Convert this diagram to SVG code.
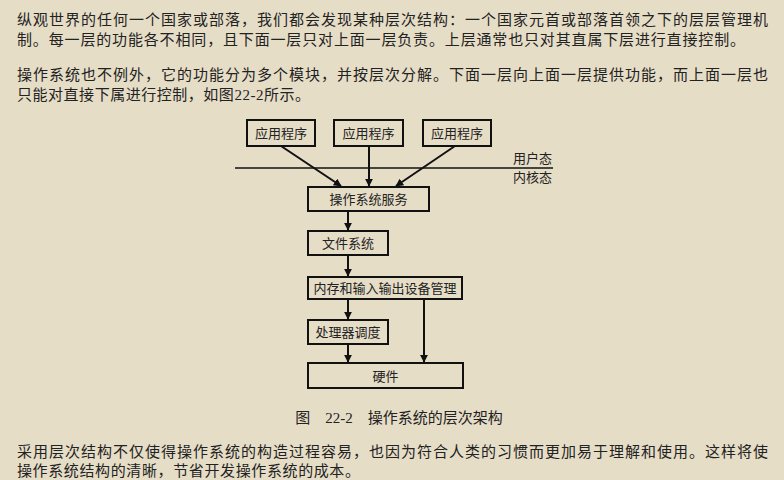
<svg xmlns="http://www.w3.org/2000/svg" width="784" height="480" viewBox="0 0 784 480">
<defs>
<style>
text{font-family:"Liberation Serif","Noto Sans CJK SC",serif;fill:#222}
.p{font-size:15px}
.b{font-size:13px;text-anchor:middle}
rect{fill:none;stroke:#111;stroke-width:2}
.c line{stroke:#111;stroke-width:2;marker-end:url(#a)}
</style>
<marker id="a" viewBox="0 0 10 10" refX="9" refY="5" markerWidth="4" markerHeight="4" orient="auto"><path d="M0,0L10,5L0,10z" fill="#111"/></marker>
</defs>
<rect x="0" y="0" width="784" height="480" style="fill:#e6ddc7;stroke:none"/>
<text class="p" x="17" y="25" textLength="751">纵观世界的任何一个国家或部落，我们都会发现某种层次结构：一个国家元首或部落首领之下的层层管理机</text>
<text class="p" x="17" y="45" textLength="728">制。每一层的功能各不相同，且下面一层只对上面一层负责。上层通常也只对其直属下层进行直接控制。</text>
<text class="p" x="17" y="80" textLength="751">操作系统也不例外，它的功能分为多个模块，并按层次分解。下面一层向上面一层提供功能，而上面一层也</text>
<text class="p" x="17" y="100" textLength="293">只能对直接下属进行控制，如图22-2所示。</text>
<g id="app1"><rect x="247" y="120" width="68" height="26"/><text class="b" x="281" y="138">应用程序</text></g>
<g id="app2"><rect x="334" y="120" width="69" height="26"/><text class="b" x="368.5" y="138">应用程序</text></g>
<g id="app3"><rect x="423" y="120" width="68" height="26"/><text class="b" x="457" y="138">应用程序</text></g>
<g id="boundary"><line x1="235" y1="168" x2="553" y2="168" stroke="#111" stroke-width="1.5"/><text x="513" y="163" style="font-size:13px">用户态</text><text x="513" y="182" style="font-size:13px">内核态</text></g>
<g id="svc"><rect x="308" y="187" width="121" height="24"/><text class="b" x="368.5" y="204">操作系统服务</text></g>
<g id="fs"><rect x="308" y="231" width="80" height="24"/><text class="b" x="348" y="248">文件系统</text></g>
<g id="mem"><rect x="308" y="277" width="154" height="22"/><text class="b" x="385" y="293">内存和输入输出设备管理</text></g>
<g id="cpu"><rect x="308" y="320" width="80" height="24"/><text class="b" x="348" y="337">处理器调度</text></g>
<g id="hw"><rect x="308" y="363" width="155" height="25"/><text class="b" x="385.5" y="381">硬件</text></g>
<g class="c">
<line x1="281" y1="146" x2="341" y2="186"/>
<line x1="369" y1="146" x2="369" y2="186"/>
<line x1="455" y1="146" x2="396" y2="186"/>
<line x1="348" y1="211" x2="348" y2="230"/>
<line x1="348" y1="255" x2="348" y2="276"/>
<line x1="348" y1="299" x2="348" y2="319"/>
<line x1="348" y1="344" x2="348" y2="362"/>
<line x1="424" y1="299" x2="424" y2="362"/>
</g>
<text x="399" y="423" style="font-size:15px;text-anchor:middle">图　22-2　操作系统的层次架构</text>
<text class="p" x="17" y="457" textLength="751">采用层次结构不仅使得操作系统的构造过程容易，也因为符合人类的习惯而更加易于理解和使用。这样将使</text>
<text class="p" x="17" y="476" textLength="343">操作系统结构的清晰，节省开发操作系统的成本。</text>
</svg>
